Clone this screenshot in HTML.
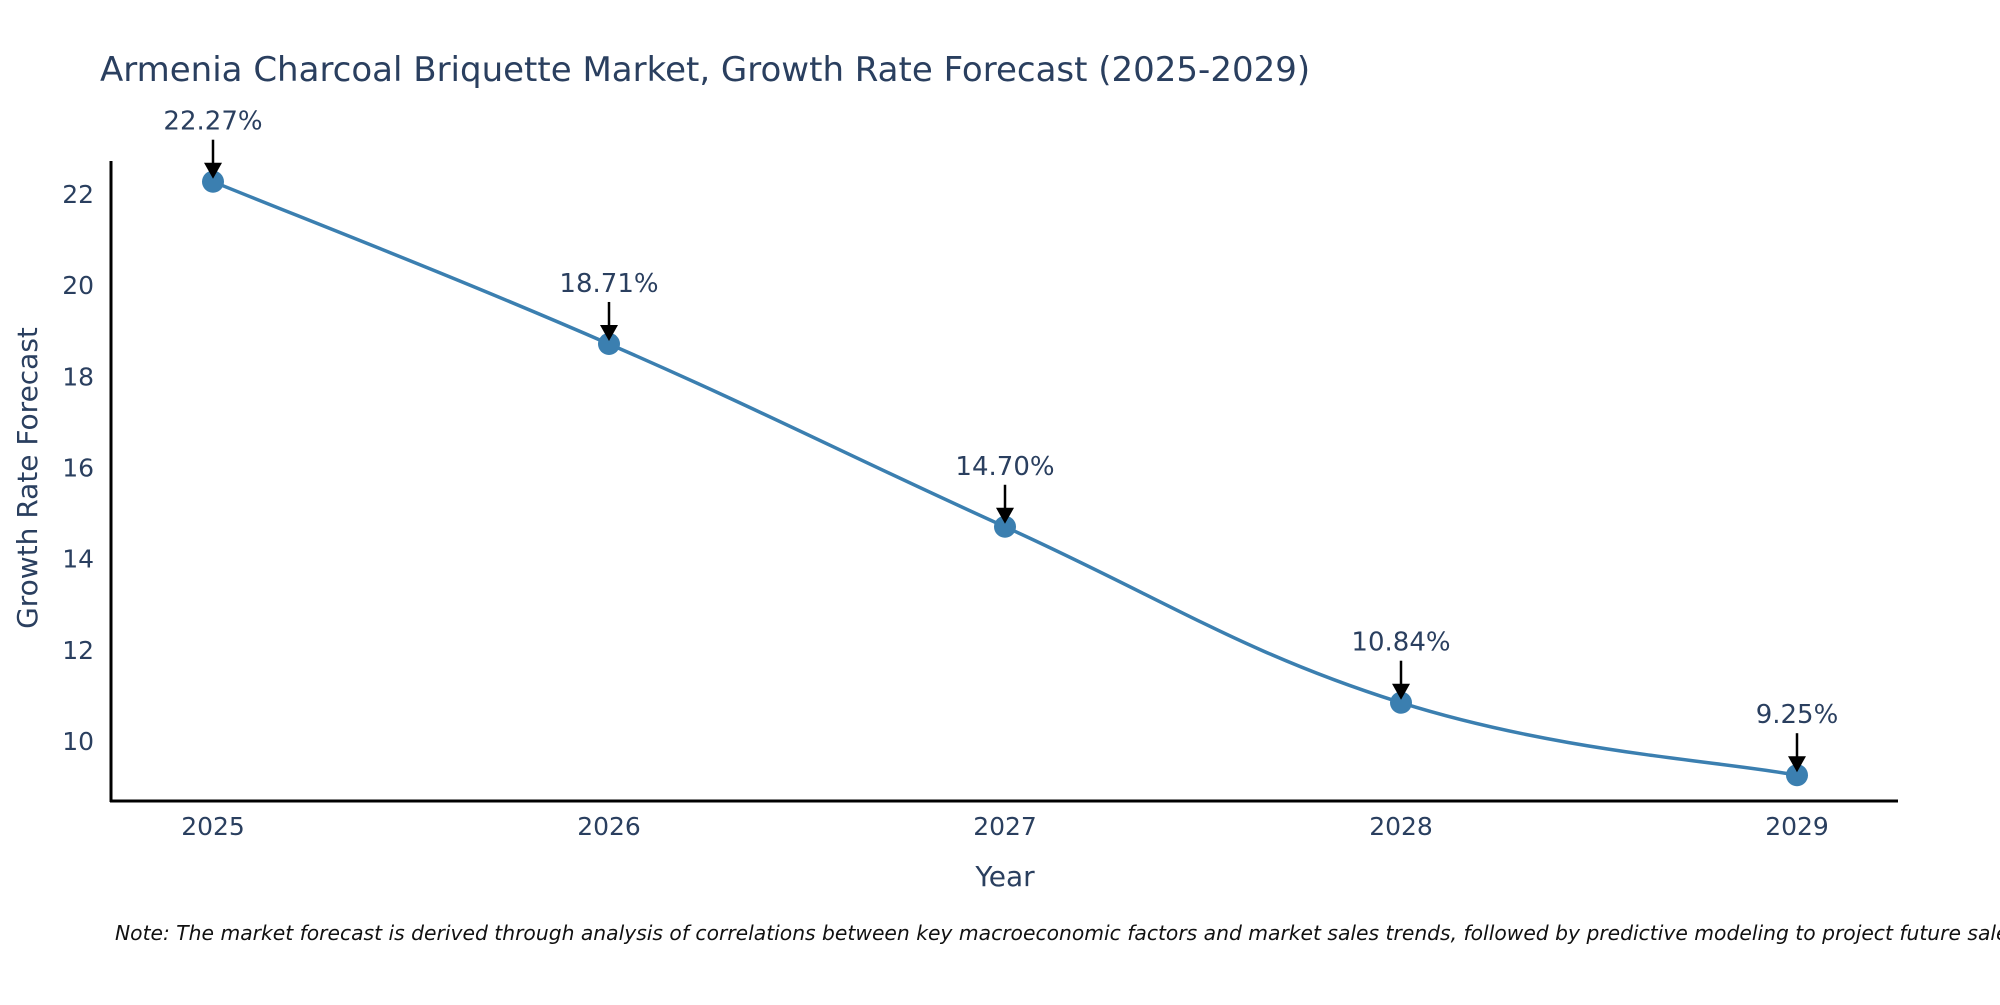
<!DOCTYPE html>
<html><head><meta charset="utf-8"><style>
html,body{margin:0;padding:0;background:#fff;}
svg text{font-family:"DejaVu Sans","Liberation Sans",sans-serif;fill:#2a3f5f;}
</style></head><body>
<svg id="chart" width="2000" height="1000" xmlns="http://www.w3.org/2000/svg">
<rect width="2000" height="1000" fill="#fff"/>
<text x="100" y="81" font-size="34">Armenia Charcoal Briquette Market, Growth Rate Forecast (2025-2029)</text>
<g id="yticks"></g>
<g id="xticks"></g>
<line x1="111" y1="161" x2="111" y2="802" stroke="#000" stroke-width="3"/>
<line x1="110" y1="801" x2="1898" y2="801" stroke="#000" stroke-width="3"/>
<path id="line" fill="none" stroke="#3b7fb0" stroke-width="3.5"/>
<g id="points"></g>
<g id="annos"></g>
<text x="37" y="478" font-size="28" text-anchor="middle" transform="rotate(-90 37 478)">Growth Rate Forecast</text>
<text x="1005" y="886" font-size="28" text-anchor="middle">Year</text>
<text x="115" y="940" font-size="20.3" font-style="italic" style="fill:#111">Note: The market forecast is derived through analysis of correlations between key macroeconomic factors and market sales trends, followed by predictive modeling to project future sales</text>
</svg>
<script>
const years = ["2025","2026","2027","2028","2029"];
const values = [22.27, 18.71, 14.70, 10.84, 9.25];
const labels = ["22.27%","18.71%","14.70%","10.84%","9.25%"];
const yTicks = [10,12,14,16,18,20,22];

const NS="http://www.w3.org/2000/svg";
function xs(i){return 213+i*(1797-213)/(years.length-1);}
function ys(v){return 741-(v-10)*(741-194)/12;}
function mk(t,a,p){const e=document.createElementNS(NS,t);for(const k in a)e.setAttribute(k,a[k]);p.appendChild(e);return e;}

const yt=document.getElementById('yticks');
yTicks.forEach(v=>{
  const t=mk('text',{x:94,y:ys(v)+9,'font-size':25,'text-anchor':'end'},yt);
  
  
  t.textContent=v;
});
const xt=document.getElementById('xticks');
years.forEach((y,i)=>{
  const t=mk('text',{x:xs(i),y:835,'font-size':25,'text-anchor':'middle'},xt);
  
  
  t.textContent=y;
});

const P=values.map((v,i)=>[xs(i),ys(v)]);
let d=`M${P[0][0]},${P[0][1]}`;
const s=0.2;
for(let i=0;i<P.length-1;i++){
  const p0=P[Math.max(i-1,0)],p1=P[i],p2=P[i+1],p3=P[Math.min(i+2,P.length-1)];
  const c1=[p1[0]+(p2[0]-p0[0])*s,p1[1]+(p2[1]-p0[1])*s];
  const c2=[p2[0]-(p3[0]-p1[0])*s,p2[1]-(p3[1]-p1[1])*s];
  d+=` C${c1[0]},${c1[1]} ${c2[0]},${c2[1]} ${p2[0]},${p2[1]}`;
}
document.getElementById('line').setAttribute('d',d);

const pts=document.getElementById('points'), an=document.getElementById('annos');
P.forEach((p,i)=>{
  const c=mk('circle',{cx:p[0],cy:p[1],r:11,fill:'#3b7fb0'},pts);
  
  
  const l=mk('line',{x1:p[0],y1:p[1]-42,x2:p[0],y2:p[1]-16,stroke:'#000','stroke-width':2.5},an);
  
  
  const h=mk('path',{d:`M${p[0]-9},${p[1]-19} L${p[0]+9},${p[1]-19} L${p[0]},${p[1]-3} Z`,fill:'#000'},an);
  
  
  const t=mk('text',{x:p[0],y:p[1]-52,'font-size':26,'text-anchor':'middle'},an);
  
  
  t.textContent=labels[i];
});
</script>
</body></html>
